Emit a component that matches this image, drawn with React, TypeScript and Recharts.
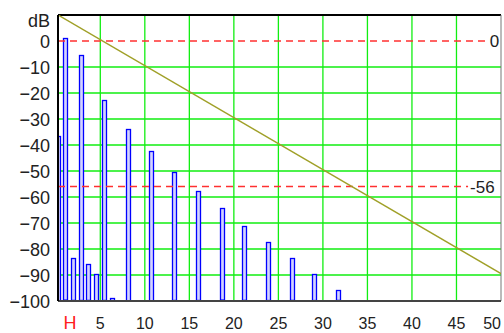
import React from "react";
import {
  ComposedChart,
  Bar,
  Line,
  XAxis,
  YAxis,
  CartesianGrid,
  ReferenceLine,
} from "recharts";

// harmonic positions (x units) and levels (dB)
const harmonicX = [0.3, 1.04, 1.97, 2.87, 3.66, 4.53, 5.37, 6.27, 8.09, 10.75, 13.29, 16.03, 18.64, 21.13, 23.82, 26.49, 29.03, 31.7];
const harmonicDb = [-36.5, 1, -83.5, -5.4, -85.8, -89.5, -22.7, -98.8, -33.7, -42.2, -50.4, -57.7, -64.4, -71.2, -77.3, -83.5, -89.6, -95.8];

// limit (mask) line end points
const limitX = [0.25, 50];
const limitDb = [10, -89.5];

const xTicks = [5, 10, 15, 20, 25, 30, 35, 40, 45, 50];
const yTicks = [10, 0, -10, -20, -30, -40, -50, -60, -70, -80, -90, -100];
const gridX = [5, 10, 15, 20, 25, 30, 35, 40, 45];
const gridY = [-10, -20, -30, -40, -50, -60, -70, -80, -90];
const hPos = 1.6;
const hLabel = "H";
const yUnit = "dB";
const refLevels = [0, -56];
const refLabels = ["0", "-56"];
const refEnds = [48.5, 46.3];

const X_MIN = 0.25;
const X_MAX = 50;
const Y_MIN = -100;
const Y_MAX = 10;

const barData = harmonicX.map((x, i) => ({ x, range: [Y_MIN, harmonicDb[i]] }));
const lineData = limitX.map((x, i) => ({ x, db: limitDb[i] }));

const FONT = "'Liberation Sans', Arial, sans-serif";
const BAR_W = 4;

const YTick = (props: any) => {
  const { x, y, payload } = props;
  const v = payload.value;
  const label = v === Y_MAX ? yUnit : v < 0 ? "\u2212" + Math.abs(v) : String(v);
  const dy = v === Y_MAX ? 6 : 1;
  return (
    <text x={x} y={y + dy} textAnchor="end" dominantBaseline="central" fontFamily={FONT} fontSize={18} fill="#222">
      {label}
    </text>
  );
};

const XTick = (props: any) => {
  const { x, y, payload } = props;
  const v = payload.value;
  if (v === hPos) {
    return (
      <text x={x} y={y + 14} textAnchor="middle" dominantBaseline="central" fontFamily={FONT} fontSize={18} fill="#ff2020">
        {hLabel}
      </text>
    );
  }
  const isLast = v === X_MAX;
  return (
    <text x={isLast ? x + 5 : x} y={y + 14} textAnchor={isLast ? "end" : "middle"} dominantBaseline="central" fontFamily={FONT} fontSize={16} fill="#222">
      {String(v)}
    </text>
  );
};

const HarmonicBar = (props: any) => {
  const { x, y, width, height } = props;
  if (x == null || y == null || height == null) return null;
  const cx = x + (width || 0) / 2;
  const top = Math.min(y, y + height);
  const h = Math.abs(height);
  return (
    <rect
      x={Math.round(cx - BAR_W / 2) + 0.5}
      y={Math.round(top) + 0.5}
      width={BAR_W}
      height={Math.max(h - 1, 0)}
      fill="#d4d4ff"
      stroke="#0000ff"
      strokeWidth={1.3}
    />
  );
};

export default function App() {
  return (
    <div style={{ position: "absolute", left: 0, top: 0, background: "#fff" }}>
      <ComposedChart
        width={504}
        height={333}
        data={barData}
        margin={{ top: 15, right: 3, bottom: 2, left: 8 }}
      >
        <CartesianGrid
          stroke="#11ee11"
          strokeWidth={1.3}
          horizontalValues={gridY}
          verticalValues={gridX}
        />
        <XAxis
          dataKey="x"
          type="number"
          domain={[X_MIN, X_MAX]}
          ticks={[hPos, ...xTicks]}
          tick={<XTick />}
          tickLine={false}
          axisLine={{ stroke: "#444", strokeWidth: 2 }}
          height={30}
          allowDataOverflow
        />
        <YAxis
          type="number"
          domain={[Y_MIN, Y_MAX]}
          ticks={yTicks}
          tick={<YTick />}
          tickLine={false}
          axisLine={{ stroke: "#000", strokeWidth: 2 }}
          width={50}
          allowDataOverflow
          interval={0}
        />
        <ReferenceLine y={Y_MAX} stroke="#000" strokeWidth={2} />
        <ReferenceLine x={X_MAX} stroke="#777" strokeWidth={1} />
        {refLevels.map((lv, i) => (
          <ReferenceLine
            key={lv}
            segment={[
              { x: X_MIN, y: lv },
              { x: refEnds[i], y: lv },
            ]}
            stroke="#ff3030"
            strokeWidth={1.5}
            strokeDasharray="7 5"
            label={{ value: refLabels[i], position: "right", offset: 2, fontFamily: FONT, fontSize: 17, fill: "#222" }}
          />
        ))}
        <Bar
          dataKey="range"
          barSize={4}
          shape={<HarmonicBar />}
          isAnimationActive={false}
        />
        <Line
          data={lineData}
          dataKey="db"
          type="linear"
          stroke="#a0a028"
          strokeWidth={1.5}
          dot={false}
          activeDot={false}
          isAnimationActive={false}
        />
      </ComposedChart>
    </div>
  );
}
